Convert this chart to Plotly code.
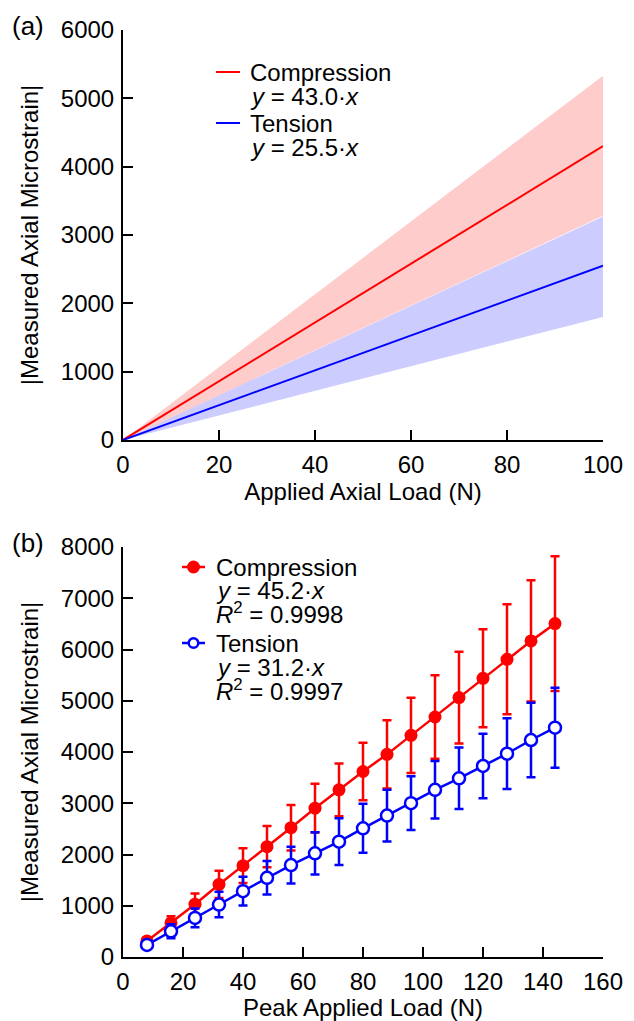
import plotly.graph_objects as go
from plotly.subplots import make_subplots

# ---------------- data ----------------
# Panel (a): calibration lines and bands
load_a = [0, 100]
comp_line = [0, 4300]
comp_upper = [0, 5330]
comp_lower = [0, 3280]
tens_line = [0, 2550]
tens_upper = [0, 3270]
tens_lower = [0, 1800]

# Panel (b): peak applied load vs measured strain
load_b = [8, 16, 24, 32, 40, 48, 56, 64, 72, 80, 88, 96, 104, 112, 120, 128, 136, 144]
comp_mean = [313, 665, 1031, 1416, 1781, 2153, 2524, 2903, 3262, 3620, 3954, 4325, 4683,
             5061, 5438, 5809, 6167, 6505]
comp_err = [60, 131, 208, 267, 339, 404, 444, 476, 515, 562, 664, 735, 813, 897, 956,
            1073, 1184, 1314]
tens_mean = [235, 502, 763, 1024, 1285, 1546, 1794, 2022, 2250, 2511, 2759, 3001, 3262,
             3486, 3727, 3967, 4234, 4475]
tens_err = [50, 137, 183, 248, 281, 326, 359, 411, 457, 477, 503, 525, 560, 600, 631,
            690, 729, 781]

x_ticks_a = [0, 20, 40, 60, 80, 100]
y_ticks_a = [0, 1000, 2000, 3000, 4000, 5000, 6000]
x_ticks_b = [0, 20, 40, 60, 80, 100, 120, 140, 160]
y_ticks_b = [0, 1000, 2000, 3000, 4000, 5000, 6000, 7000, 8000]

legend_a = [("Compression", "<i>y</i> = 43.0·<i>x</i>"),
            ("Tension", "<i>y</i> = 25.5·<i>x</i>")]
legend_b = [("Compression", "<i>y</i> = 45.2·<i>x</i>", "<i>R</i><sup>2</sup> = 0.9998"),
            ("Tension", "<i>y</i> = 31.2·<i>x</i>", "<i>R</i><sup>2</sup> = 0.9997")]

RED = "rgb(255,0,0)"
BLUE = "rgb(0,0,255)"
FONT = "Liberation Sans, Arial, Helvetica, sans-serif"
FS = 24

# page has an 8px body margin; compensate so the plot sits where the reference has it
OFF = 8
W, H = 634 - OFF, 1021 - OFF
ML, MR, MT, MB = 123 - OFF, 31, 30 - OFF, 64
PW = W - ML - MR
PH = H - MT - MB


def px(xp):
    return (xp - OFF - ML) / PW


def py(yp):
    return (H - MB - (yp - OFF)) / PH


fig = make_subplots(rows=2, cols=1)

# ---- panel (a) bands ----
fig.add_trace(go.Scatter(x=load_a, y=tens_lower, mode="lines", line=dict(width=0),
                         showlegend=False, hoverinfo="skip"), row=1, col=1)
fig.add_trace(go.Scatter(x=load_a, y=tens_upper, mode="lines", line=dict(width=0),
                         fill="tonexty", fillcolor="rgba(0,0,255,0.2)",
                         showlegend=False, hoverinfo="skip"), row=1, col=1)
fig.add_trace(go.Scatter(x=load_a, y=comp_lower, mode="lines", line=dict(width=0),
                         showlegend=False, hoverinfo="skip"), row=1, col=1)
fig.add_trace(go.Scatter(x=load_a, y=comp_upper, mode="lines", line=dict(width=0),
                         fill="tonexty", fillcolor="rgba(255,0,0,0.2)",
                         showlegend=False, hoverinfo="skip"), row=1, col=1)
fig.add_trace(go.Scatter(x=load_a, y=comp_line, mode="lines", line=dict(color=RED, width=2),
                         name="Compression", showlegend=False), row=1, col=1)
fig.add_trace(go.Scatter(x=load_a, y=tens_line, mode="lines", line=dict(color=BLUE, width=2),
                         name="Tension", showlegend=False), row=1, col=1)

# ---- panel (b) ----
fig.add_trace(go.Scatter(x=load_b, y=comp_mean, mode="lines+markers",
                         line=dict(color=RED, width=2.5),
                         marker=dict(symbol="circle", size=13, color=RED, line=dict(width=0)),
                         error_y=dict(type="data", array=comp_err, color=RED, thickness=2.5, width=4.5),
                         name="Compression", showlegend=False), row=2, col=1)
fig.add_trace(go.Scatter(x=load_b, y=tens_mean, mode="lines+markers",
                         line=dict(color=BLUE, width=2.5),
                         marker=dict(symbol="circle", size=12, color="white",
                                     line=dict(width=2.5, color=BLUE)),
                         error_y=dict(type="data", array=tens_err, color=BLUE, thickness=2.5, width=4.5),
                         name="Tension", showlegend=False), row=2, col=1)

axis_common = dict(showline=True, linecolor="black", linewidth=2, ticks="inside",
                   ticklen=10, tickwidth=2, tickcolor="black", showgrid=False,
                   zeroline=False, tickfont=dict(family=FONT, size=FS, color="black"),
                   ticklabelstandoff=2, automargin=False,
                   title_font=dict(family=FONT, size=FS, color="black"))

fig.update_xaxes(range=[0, 100], tickvals=x_ticks_a, title_text="Applied Axial Load (N)",
                 title_standoff=4, **axis_common, row=1, col=1)
fig.update_yaxes(range=[0, 6000], tickvals=y_ticks_a, title_text="|Measured Axial Microstrain|",
                 title_standoff=15, **axis_common, row=1, col=1)
fig.update_xaxes(range=[0, 160], tickvals=x_ticks_b, title_text="Peak Applied Load (N)",
                 title_standoff=6, **axis_common, row=2, col=1)
fig.update_yaxes(range=[0, 8000], tickvals=y_ticks_b, title_text="|Measured Axial Microstrain|",
                 title_standoff=15, **axis_common, row=2, col=1)

fig.update_layout(
    xaxis=dict(domain=[0, 1]), xaxis2=dict(domain=[0, 1]),
    yaxis=dict(domain=[py(440), 1]), yaxis2=dict(domain=[0, py(547)]),
)

annotations = []
shapes = []

# panel labels
annotations.append(dict(text="(a)", x=px(28), y=py(26), xref="paper", yref="paper",
                        showarrow=False, xanchor="center", yanchor="middle",
                        font=dict(family=FONT, size=26, color="black")))
annotations.append(dict(text="(b)", x=px(28), y=py(543), xref="paper", yref="paper",
                        showarrow=False, xanchor="center", yanchor="middle",
                        font=dict(family=FONT, size=26, color="black")))

# legend (a)
lines_a_y = [[72, 97], [123, 148]]
colors = [RED, BLUE]
for (grp, ys, c) in zip(legend_a, lines_a_y, colors):
    for txt, yy in zip(grp, ys):
        annotations.append(dict(text=txt, x=px(248), y=py(yy), xref="paper", yref="paper",
                                showarrow=False, xanchor="left", yanchor="middle",
                                font=dict(family=FONT, size=FS, color="black")))
    shapes.append(dict(type="line", xref="paper", yref="paper", x0=px(216), x1=px(240),
                       y0=py(ys[0]), y1=py(ys[0]), line=dict(color=c, width=2)))

# legend (b)
lines_b_y = [[567, 590, 613], [643, 667, 690]]
for i, (grp, ys, c) in enumerate(zip(legend_b, lines_b_y, colors)):
    for txt, yy in zip(grp, ys):
        annotations.append(dict(text=txt, x=px(214), y=py(yy), xref="paper", yref="paper",
                                showarrow=False, xanchor="left", yanchor="middle",
                                font=dict(family=FONT, size=FS, color="black")))
    shapes.append(dict(type="line", xref="paper", yref="paper", x0=px(182), x1=px(205),
                       y0=py(ys[0]), y1=py(ys[0]), line=dict(color=c, width=2.5)))
    if i == 0:
        shapes.append(dict(type="circle", xref="paper", yref="paper", xsizemode="pixel",
                           ysizemode="pixel", xanchor=px(193.5), yanchor=py(ys[0]),
                           x0=-6.5, x1=6.5, y0=-6.5, y1=6.5,
                           fillcolor=RED, line=dict(width=0)))
    else:
        shapes.append(dict(type="circle", xref="paper", yref="paper", xsizemode="pixel",
                           ysizemode="pixel", xanchor=px(193.5), yanchor=py(ys[0]),
                           x0=-4.8, x1=4.8, y0=-4.8, y1=4.8,
                           fillcolor="white", line=dict(width=2.5, color=BLUE)))

fig.update_layout(
    width=W, height=H,
    margin=dict(l=ML, r=MR, t=MT, b=MB, pad=0),
    plot_bgcolor="white", paper_bgcolor="white",
    font=dict(family=FONT, size=FS, color="black"),
    annotations=annotations, shapes=shapes, showlegend=False,
)

fig.write_html("out.html")
